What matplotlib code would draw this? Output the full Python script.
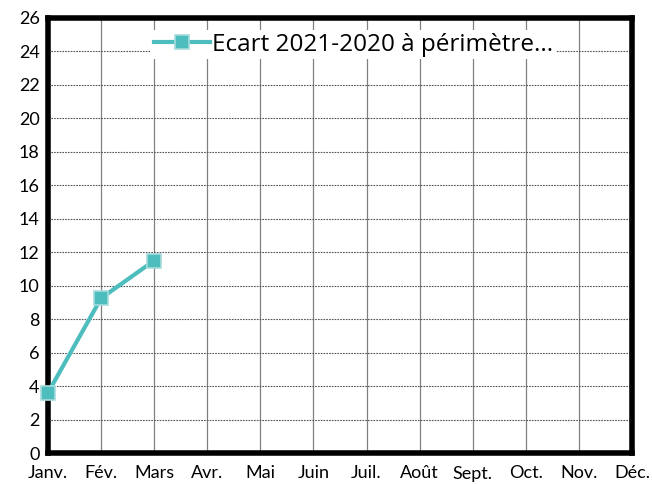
import numpy as np
import matplotlib.pyplot as plt

mois = ['Janv.', 'Fév.', 'Mars', 'Avr.', 'Mai', 'Juin', 'Juil.', 'Août', 'Sept.', 'Oct.', 'Nov.', 'Déc.']
ecart = [3.6, 9.25, 11.5]
serie = 'Ecart 2021-2020 à périmètre...'

plt.rcParams['font.family'] = ['Lato', 'DejaVu Sans']

fig = plt.figure(figsize=(6.52, 4.84), dpi=100)
ax = fig.add_axes([48 / 652, 31 / 484, 584 / 652, 435 / 484])

x = np.arange(len(mois))
ax.plot(x[:len(ecart)], ecart, color='#4dbdbd', lw=3, marker='s', ms=10,
        mfc='#4dbdbd', mec='#a6dcdc', mew=1.2, label=serie, clip_on=False, zorder=5)

ax.set_xlim(0, 11)
ax.set_ylim(0, 26)
ax.set_yticks(range(0, 27, 2))
ax.set_xticks(x)
ax.set_xticklabels(mois)
ax.tick_params(length=0, pad=6)
ax.tick_params(axis='y', labelsize=13)
ax.tick_params(axis='x', labelsize=13, pad=9)

ax.grid(axis='x', color='#808080', lw=0.9, ls='-')
ax.grid(axis='y', color='#555555', lw=0.8, ls=(0, (1.5, 1)))
ax.set_axisbelow(True)
for s in ax.spines.values():
    s.set_linewidth(4)
    s.set_color('black')

leg = ax.legend(loc='upper center', bbox_to_anchor=(0.523, 1.0), frameon=True,
                fancybox=False, framealpha=1, edgecolor='white', handlelength=2.3,
                prop={'family': 'Open Sans', 'size': 17.5}, borderpad=0.1,
                handletextpad=0.1)
leg.get_frame().set_linewidth(0)

fig.savefig('out.png', dpi=100)
